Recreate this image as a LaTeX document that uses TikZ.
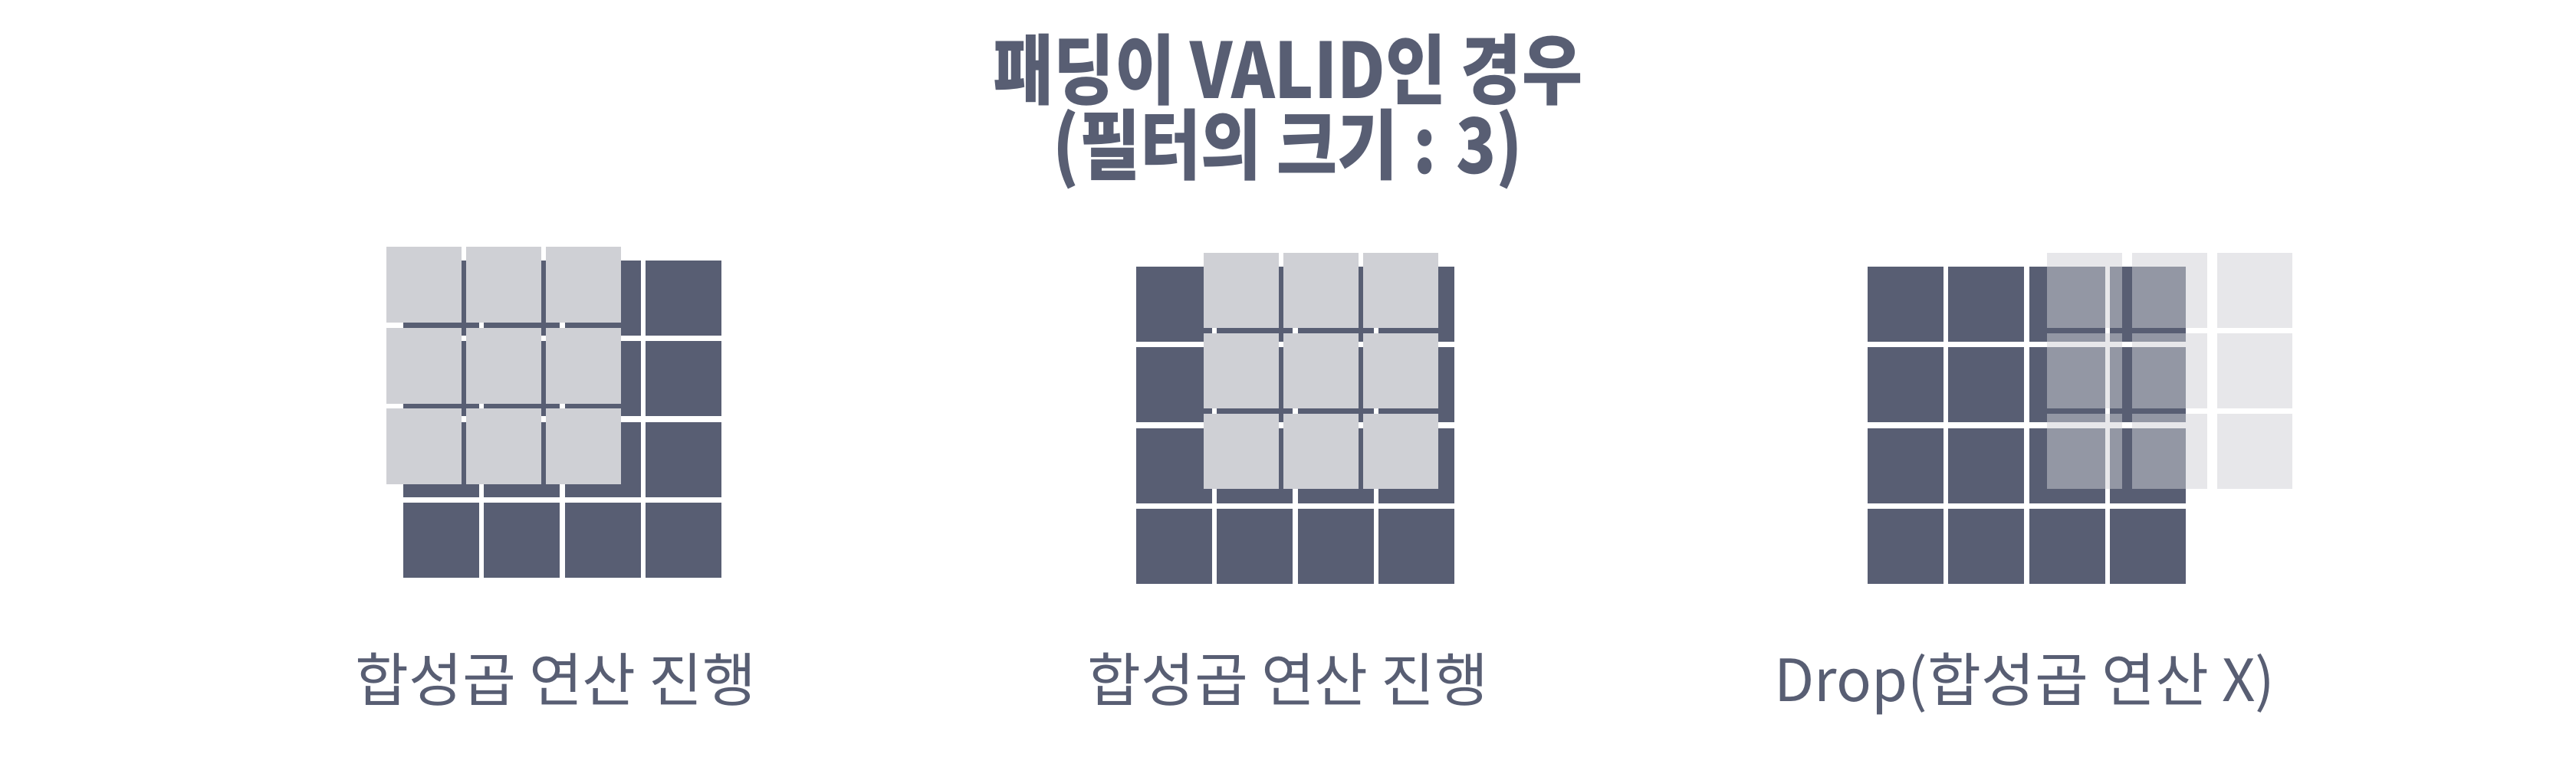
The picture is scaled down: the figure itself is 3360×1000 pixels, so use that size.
\documentclass[tikz,border=0pt]{standalone}
\usepackage{fontspec}
\setmainfont{Noto Sans CJK KR}
\newfontfamily\titlefont{Noto Sans CJK KR Black}[FakeStretch=0.86]
\newfontfamily\capfont{Noto Sans CJK KR}[FakeStretch=1.0]
\definecolor{slate}{RGB}{88,94,115}
\definecolor{mist}{RGB}{207,208,213}

\begin{document}
\begin{tikzpicture}[x=0.25pt, y=-0.25pt,
        heading/.style={anchor=base, text=slate, font=\titlefont\fontsize{25}{27}\selectfont, inner sep=0pt},
        captext/.style={anchor=base, text=slate, font=\capfont\fontsize{19}{21}\selectfont, inner sep=0pt}]

    % Canvas:
    \useasboundingbox (0,0) rectangle (3360,1000);

    % Title:
    \node[heading] (title) at (1680,128) {패딩이 VALID인 경우};
    \node[heading] (filter) at (1680,226) {(필터의 크기 : 3)};

    % Input maps (4x4):
    \foreach \ox/\oy in {526/340, 1482/348, 2436/348}
        \foreach \i in {0,...,3}
            \foreach \j in {0,...,3}
                \fill[slate] (\ox+105.3*\i, \oy+105.3*\j) rectangle ++(99,98);

    % Filters (3x3):
    \foreach \i in {0,1,2}
        \foreach \j in {0,1,2} {
            \fill[mist] (504+104*\i, 322+105.5*\j) rectangle ++(98,99);
            \fill[mist] (1570+104*\i, 330+105*\j) rectangle ++(98,98);
            \fill[mist, opacity=0.5] (2670+111*\i, 330+105*\j) rectangle ++(98,98);
        }

    % Captions:
    \node[captext] (convA) at (725,915) {합성곱 연산 진행};
    \node[captext] (convB) at (1680,915) {합성곱 연산 진행};
    \node[captext] (drop) at (2641,915) {Drop(합성곱 연산 X)};
\end{tikzpicture}
\end{document}
